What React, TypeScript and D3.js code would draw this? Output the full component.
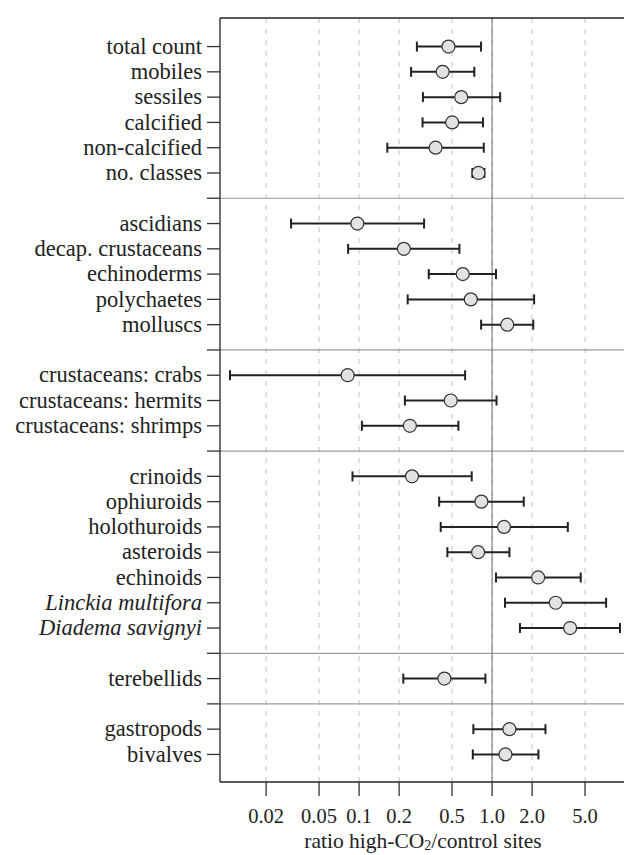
import * as d3 from "d3";

// row labels by group (a blank separator row sits between groups)
const group1 = ["total count", "mobiles", "sessiles", "calcified", "non-calcified", "no. classes"];
const group2 = ["ascidians", "decap. crustaceans", "echinoderms", "polychaetes", "molluscs"];
const group3 = ["crustaceans: crabs", "crustaceans: hermits", "crustaceans: shrimps"];
const group4 = ["crinoids", "ophiuroids", "holothuroids", "asteroids", "echinoids", "Linckia multifora", "Diadema savignyi"];
const group5 = ["terebellids"];
const group6 = ["gastropods", "bivalves"];
const groups = [group1, group2, group3, group4, group5, group6];

const italicLabels = ["Linckia multifora", "Diadema savignyi"];

// ratio high-CO2 / control, with 95% interval, same order as the labels
const ratio = [
    0.47, 0.425, 0.586, 0.501, 0.376, 0.79,
    0.097, 0.217, 0.602, 0.692, 1.3,
    0.082, 0.489, 0.241,
    0.25, 0.831, 1.23, 0.785, 2.22, 3.01, 3.86,
    0.438,
    1.35, 1.26,
];
const lower = [
    0.272, 0.246, 0.302, 0.3, 0.163, 0.711,
    0.0308, 0.0827, 0.334, 0.232, 0.827,
    0.0107, 0.221, 0.105,
    0.0892, 0.4, 0.411, 0.461, 1.07, 1.25, 1.62,
    0.215,
    0.723, 0.716,
];
const upper = [
    0.826, 0.735, 1.15, 0.854, 0.866, 0.875,
    0.308, 0.568, 1.07, 2.07, 2.04,
    0.627, 1.08, 0.558,
    0.703, 1.73, 3.71, 1.35, 4.64, 7.2, 9.16,
    0.891,
    2.52, 2.23,
];

const xTicks = [0.02, 0.05, 0.1, 0.2, 0.5, 1.0, 2.0, 5.0];
const xTickLabels = ["0.02", "0.05", "0.1", "0.2", "0.5", "1.0", "2.0", "5.0"];

const W = 624;
const H = 855;
const left = 220;
const top = 18;
const bottom = 782;
const font = "'Liberation Serif', 'Times New Roman', serif";

export default function App() {
    // slot index for every row, separators included
    const rows: { label: string; slot: number }[] = [];
    const separators: number[] = [];
    let slot = 1;
    groups.forEach((g, gi) => {
        g.forEach((label) => {
            rows.push({ label, slot });
            slot++;
        });
        if (gi < groups.length - 1) {
            separators.push(slot);
            slot++;
        }
    });

    const x = d3.scaleLog().domain([0.009, 10]).range([left, left + 133 * Math.log10(10 / 0.009)]);
    const y = d3.scaleLinear().domain([-0.13, 30.09]).range([top, bottom]);

    return (
        <svg width={W} height={H} style={{ position: "absolute", left: 0, top: 0, background: "#fff" }}>
            {/* dashed grid */}
            {xTicks.map((t) => (
                <line key={"g" + t} x1={x(t)} x2={x(t)} y1={top} y2={bottom}
                    stroke="#c4c4c4" strokeWidth={1} strokeDasharray="5,6" />
            ))}
            {/* group separators */}
            {separators.map((s) => (
                <line key={"s" + s} x1={left} x2={W} y1={y(s)} y2={y(s)} stroke="#9a9a9a" strokeWidth={1.2} />
            ))}
            {/* reference line at ratio 1 */}
            <line x1={x(1)} x2={x(1)} y1={top} y2={bottom} stroke="#808080" strokeWidth={1.2} />

            {/* frame */}
            <line x1={left} x2={W} y1={top} y2={top} stroke="#222" strokeWidth={1.3} />
            <line x1={left} x2={W} y1={bottom} y2={bottom} stroke="#222" strokeWidth={1.3} />
            <line x1={left} x2={left} y1={top} y2={bottom} stroke="#222" strokeWidth={1.3} />

            {/* left axis ticks and labels */}
            {[...rows.map((r) => r.slot), ...separators].map((s) => (
                <line key={"t" + s} x1={left - 13} x2={left} y1={y(s)} y2={y(s)} stroke="#333" strokeWidth={1.3} />
            ))}
            {rows.map((r) => (
                <text key={r.label} x={left - 18} y={y(r.slot)} dy="0.32em" textAnchor="end"
                    fontFamily={font} fontSize={22.5} fill="#222"
                    fontStyle={italicLabels.includes(r.label) ? "italic" : "normal"}>
                    {r.label}
                </text>
            ))}

            {/* intervals and points */}
            {rows.map((r, i) => {
                const yy = y(r.slot);
                return (
                    <g key={"b" + r.label}>
                        <line x1={x(lower[i])} x2={x(upper[i])} y1={yy} y2={yy} stroke="#222" strokeWidth={2} />
                        <line x1={x(lower[i])} x2={x(lower[i])} y1={yy - 5} y2={yy + 5} stroke="#222" strokeWidth={2} />
                        <line x1={x(upper[i])} x2={x(upper[i])} y1={yy - 5} y2={yy + 5} stroke="#222" strokeWidth={2} />
                        <circle cx={x(ratio[i])} cy={yy} r={6.5} fill="#e2e2e2" stroke="#333" strokeWidth={1.2} />
                    </g>
                );
            })}

            {/* bottom axis */}
            {xTicks.map((t, i) => (
                <g key={"x" + t}>
                    <line x1={x(t)} x2={x(t)} y1={bottom} y2={bottom + 14} stroke="#333" strokeWidth={1.3} />
                    <text x={x(t)} y={823} textAnchor="middle" fontFamily={font} fontSize={20.5} fill="#222">
                        {xTickLabels[i]}
                    </text>
                </g>
            ))}
            <text x={423} y={848} textAnchor="middle" fontFamily={font} fontSize={21.5} fill="#222">
                ratio high-CO<tspan fontSize={14} dy={2}>2</tspan><tspan dy={-2}>/control sites</tspan>
            </text>
        </svg>
    );
}
